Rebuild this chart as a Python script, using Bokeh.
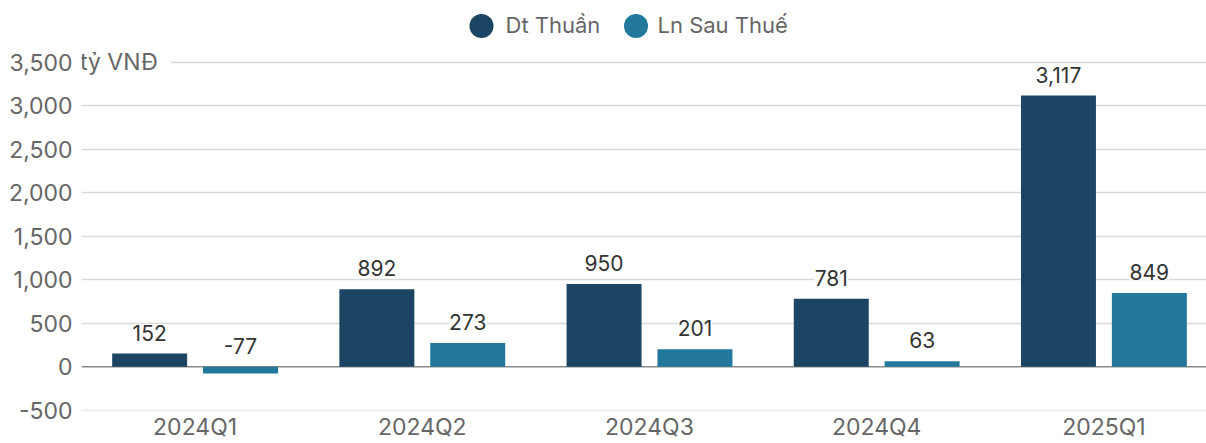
from bokeh.plotting import figure
from bokeh.models import ColumnDataSource, FixedTicker, LabelSet, Label, Span, NumeralTickFormatter
from bokeh.transform import dodge
from bokeh.core.properties import value
from bokeh.embed import file_html
from bokeh.resources import INLINE

# ---- data ----
quarters = ["2024Q1", "2024Q2", "2024Q3", "2024Q4", "2025Q1"]
dt_thuan = [152, 892, 950, 781, 3117]
ln_sau_thue = [-77, 273, 201, 63, 849]
series_names = ["Dt Thuần", "Ln Sau Thuế"]
y_ticks = [-500, 0, 500, 1000, 1500, 2000, 2500, 3000, 3500]
unit_label = "tỷ VNĐ"

# ---- style ----
DARK = "#1b4562"
TEAL = "#22789b"
FONT = "Inter"
TICK_FS = "23px"
VAL_FS = "21px"
LEG_FS = "22px"
TICK_C = "#666666"
VAL_C = "#333333"

W, H = 1206, 443
BL, BB = 81, 32
XS = 227.2      # px per category
YS = 0.0872     # px per unit
x0 = -0.5
x1 = x0 + (W - BL) / XS
y0 = -503
y1 = y0 + (H - BB) / YS

p = figure(width=W, height=H, x_range=(x0, x1), y_range=(y0, y1),
           output_backend="svg", toolbar_location=None,
           min_border_left=BL, min_border_right=0, min_border_top=0,
           min_border_bottom=BB)
p.outline_line_color = None
p.background_fill_color = "white"

# grid
p.xgrid.visible = False
p.ygrid.ticker = FixedTicker(ticks=[t for t in y_ticks if t != 0])
p.ygrid.grid_line_color = "#d9d9d9"
p.ygrid.grid_line_width = 1.5
zero = Span(location=0, dimension="width", line_color="#8a8a8a", line_width=1.5, level="underlay")
p.add_layout(zero)

# axes
ya = p.yaxis[0]
ya.ticker = FixedTicker(ticks=y_ticks)
ya.formatter = NumeralTickFormatter(format="0,0")
ya.axis_line_color = None
ya.major_tick_line_color = None
ya.minor_tick_line_color = None
ya.major_tick_out = 0
ya.major_tick_in = 0
ya.minor_tick_out = 0
ya.minor_tick_in = 0
ya.major_label_text_font = FONT
ya.major_label_text_font_size = TICK_FS
ya.major_label_text_color = TICK_C
ya.major_label_standoff = 9

xa = p.xaxis[0]
xa.ticker = FixedTicker(ticks=list(range(len(quarters))))
xa.major_label_overrides = {i: q for i, q in enumerate(quarters)}
xa.axis_line_color = None
xa.major_tick_line_color = None
xa.minor_tick_line_color = None
xa.major_tick_out = 0
xa.major_tick_in = 0
xa.minor_tick_out = 0
xa.minor_tick_in = 0
xa.major_label_text_font = FONT
xa.major_label_text_font_size = TICK_FS
xa.major_label_text_color = TICK_C
xa.major_label_standoff = 2

src = ColumnDataSource(dict(
    x=list(range(len(quarters))),
    dt=dt_thuan,
    ln=ln_sau_thue,
    dt_y=[max(v, 0) for v in dt_thuan],
    ln_y=[max(v, 0) for v in ln_sau_thue],
    dt_lbl=[f"{v:,}" for v in dt_thuan],
    ln_lbl=[f"{v:,}" for v in ln_sau_thue],
))

OFF = 0.2
BW = 0.33
p.vbar(x=dodge("x", -OFF, range=p.x_range), top="dt", bottom=0, width=BW,
       source=src, fill_color=DARK, line_color=None)
p.vbar(x=dodge("x", OFF, range=p.x_range), top="ln", bottom=0, width=BW,
       source=src, fill_color=TEAL, line_color=None)

for xo, ycol, tcol in [(-OFF, "dt_y", "dt_lbl"), (OFF, "ln_y", "ln_lbl")]:
    ls = LabelSet(x=dodge("x", xo, range=p.x_range), y=ycol, text=tcol, source=src,
                  text_align="center", text_baseline="middle", y_offset=21,
                  text_font=value(FONT), text_font_size=value(VAL_FS), text_color=VAL_C,
                  background_fill_color="white")
    p.add_layout(ls)

# unit label next to the top tick
unit = Label(x=x0, y=3500, text=unit_label, x_offset=-1.5, text_align="left",
             text_baseline="middle", text_font=FONT, text_font_size=TICK_FS,
             text_color=TICK_C, background_fill_color="white",
             padding=dict(top=2, right=13, bottom=2, left=0))
p.add_layout(unit)

# legend (drawn manually as circles + text above the bars)
fw = W - BL
fh = H - BB
def px_to_x(px):
    return x0 + (px - BL) * (x1 - x0) / fw
def py_to_y(py):
    return y1 - py * (y1 - y0) / fh

leg_src = ColumnDataSource(dict(
    cx=[px_to_x(481), px_to_x(635.5)],
    tx=[px_to_x(505), px_to_x(657)],
    cy=[py_to_y(25.5), py_to_y(25.5)],
    ty=[py_to_y(24.5), py_to_y(24.5)],
    name=series_names,
    color=[DARK, TEAL],
))
p.scatter(x="cx", y="cy", size=24, marker="circle", fill_color="color",
          line_color=None, source=leg_src)
p.text(x="tx", y="ty", text="name", source=leg_src, text_align="left",
       text_baseline="middle", text_font=value(FONT), text_font_size=value(LEG_FS),
       text_color=TICK_C)

open("out.html", "w").write(file_html(p, INLINE))
